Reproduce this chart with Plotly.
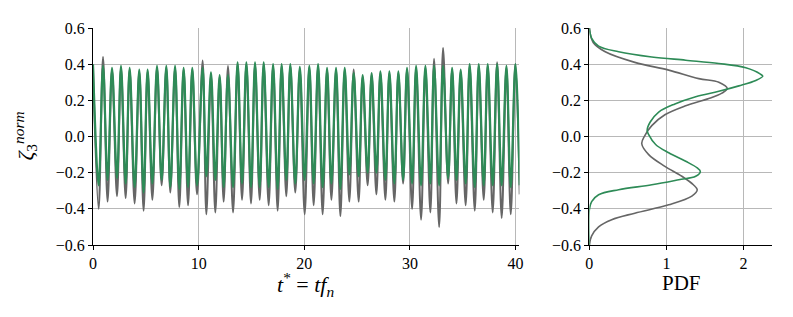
import plotly.graph_objects as go

# ---- time series: extrema (t*, value) ----
peak_t = [0.00, 0.95, 1.80, 2.65, 3.47, 4.38, 5.17, 6.06, 6.94, 7.77, 8.58, 9.40,
          10.38, 11.17, 11.99, 12.78, 13.69, 14.52, 15.34, 16.16, 17.05, 17.86, 18.68, 19.58,
          20.48, 21.31, 22.16, 23.01, 23.83, 24.68, 25.53, 26.38, 27.21, 28.06, 28.91,
          29.73, 30.59, 31.47, 32.29, 33.14, 34.00, 34.81, 35.66, 36.52, 37.37, 38.26, 39.14, 39.99]
trough_t = [0.53, 1.38, 2.27, 3.09, 3.94, 4.79, 5.62, 6.50, 7.32, 8.17, 9.00, 9.85,
            10.73, 11.58, 12.37, 13.26, 14.11, 14.96, 15.78, 16.63, 17.48, 18.30, 19.15,
            20.04, 20.89, 21.74, 22.57, 23.42, 24.27, 25.15, 26.00, 26.83, 27.68, 28.53,
            29.36, 30.21, 31.06, 31.94, 32.77, 33.62, 34.41, 35.28, 36.14, 36.99, 37.84, 38.69, 39.55]
end_t = 40.40

green_peak = [0.40, 0.39, 0.38, 0.39, 0.38, 0.37, 0.37, 0.39, 0.39, 0.39, 0.38, 0.38,
              0.38, 0.355, 0.34, 0.34, 0.41, 0.41, 0.41, 0.41, 0.40, 0.40, 0.40, 0.385,
              0.39, 0.40, 0.38, 0.38, 0.38, 0.35, 0.34, 0.35, 0.36, 0.36, 0.36,
              0.38, 0.39, 0.39, 0.39, 0.39, 0.38, 0.37, 0.40, 0.40, 0.40, 0.40, 0.39, 0.40]
green_trough = [-0.27, -0.24, -0.23, -0.26, -0.28, -0.31, -0.26, -0.24, -0.28, -0.29, -0.28, -0.27,
                -0.22, -0.24, -0.28, -0.28, -0.26, -0.28, -0.28, -0.28, -0.29, -0.24, -0.26,
                -0.24, -0.26, -0.28, -0.26, -0.29, -0.21, -0.22, -0.20, -0.20, -0.24, -0.26,
                -0.24, -0.26, -0.27, -0.26, -0.27, -0.23, -0.24, -0.26, -0.28, -0.27, -0.27, -0.27, -0.28]
green_end = -0.27

gray_peak = [0.39, 0.44, 0.37, 0.38, 0.37, 0.36, 0.36, 0.38, 0.38, 0.38, 0.37, 0.37,
             0.42, 0.34, 0.33, 0.39, 0.40, 0.40, 0.40, 0.40, 0.39, 0.39, 0.39, 0.37,
             0.38, 0.39, 0.37, 0.37, 0.37, 0.37, 0.33, 0.34, 0.35, 0.35, 0.35,
             0.37, 0.38, 0.38, 0.43, 0.49, 0.37, 0.36, 0.39, 0.39, 0.39, 0.41, 0.38, 0.40]
gray_trough = [-0.40, -0.36, -0.33, -0.34, -0.37, -0.41, -0.35, -0.27, -0.31, -0.39, -0.38, -0.32,
               -0.43, -0.42, -0.36, -0.42, -0.35, -0.37, -0.35, -0.38, -0.41, -0.33, -0.31,
               -0.43, -0.38, -0.43, -0.35, -0.44, -0.36, -0.36, -0.27, -0.32, -0.35, -0.36,
               -0.26, -0.40, -0.46, -0.42, -0.50, -0.26, -0.37, -0.38, -0.41, -0.35, -0.42, -0.45, -0.43]
gray_end = -0.32

# ---- PDF curves (zeta value, density) ----
gray_pdf_y = [-0.60, -0.55, -0.50, -0.46, -0.424, -0.378, -0.33, -0.295, -0.267, -0.22, -0.165,
              -0.10, -0.04, 0.005, 0.06, 0.12, 0.17, 0.21, 0.24, 0.265, 0.30, 0.32, 0.367,
              0.41, 0.47, 0.52, 0.60]
gray_pdf_v = [0.00, 0.03, 0.12, 0.29, 0.59, 1.03, 1.33, 1.40, 1.35, 1.20, 0.98,
              0.77, 0.68, 0.72, 0.81, 0.98, 1.25, 1.55, 1.72, 1.79, 1.68, 1.42, 1.03,
              0.59, 0.20, 0.05, 0.00]
green_pdf_y = [-0.60, -0.405, -0.36, -0.322, -0.294, -0.267, -0.239, -0.22, -0.193, -0.174,
               -0.137, -0.09, -0.044, 0.01, 0.035, 0.08, 0.135, 0.18, 0.22, 0.25, 0.28, 0.31,
               0.333, 0.345, 0.38, 0.404, 0.422, 0.44, 0.469, 0.50, 0.543, 0.60]
green_pdf_v = [0.00, 0.00, 0.03, 0.12, 0.38, 0.81, 1.16, 1.38, 1.44, 1.40,
               1.25, 1.03, 0.86, 0.77, 0.75, 0.79, 0.90, 1.11, 1.38, 1.68, 1.94, 2.16,
               2.25, 2.22, 2.03, 1.68, 1.25, 0.81, 0.38, 0.12, 0.03, 0.00]

y_ticks = [-0.6, -0.4, -0.2, 0.0, 0.2, 0.4, 0.6]
y_tick_text = ["\u22120.6", "\u22120.4", "\u22120.2", "0.0", "0.2", "0.4", "0.6"]
x_ticks = [0, 10, 20, 30, 40]
pdf_ticks = [0, 1, 2]

GREEN = "#2e8b57"
GRAY = "#666666"
FONT = "Liberation Serif"


def merge(peaks, troughs, end):
    t, v = [], []
    for i, p in enumerate(peak_t):
        t.append(p)
        v.append(peaks[i])
        if i < len(trough_t):
            t.append(trough_t[i])
            v.append(troughs[i])
    t.append(end_t)
    v.append(end)
    return t, v


tg, vg = merge(gray_peak, gray_trough, gray_end)
tgr, vgr = merge(green_peak, green_trough, green_end)

fig = go.Figure()
fig.add_trace(go.Scatter(x=tg, y=vg, mode="lines", line=dict(color=GRAY, width=2, shape="spline"),
                         xaxis="x", yaxis="y", showlegend=False))
fig.add_trace(go.Scatter(x=tgr, y=vgr, mode="lines", line=dict(color=GREEN, width=2.2, shape="spline"),
                         xaxis="x", yaxis="y", showlegend=False))
fig.add_trace(go.Scatter(x=gray_pdf_v, y=gray_pdf_y, mode="lines",
                         line=dict(color=GRAY, width=1.6, shape="spline"),
                         xaxis="x2", yaxis="y2", showlegend=False))
fig.add_trace(go.Scatter(x=green_pdf_v, y=green_pdf_y, mode="lines",
                         line=dict(color=GREEN, width=1.6, shape="spline"),
                         xaxis="x2", yaxis="y2", showlegend=False))

# the page body has an 8px margin, so the figure is offset by 8px
fig.update_layout(
    width=785, height=309,
    font=dict(family=FONT, size=16, color="black"),
    margin=dict(l=85, r=21, t=20, b=72, autoexpand=False),
    paper_bgcolor="white", plot_bgcolor="white",
    xaxis=dict(domain=[0, 0.628], range=[0, 40.37], tickvals=x_ticks, anchor="y"),
    yaxis=dict(domain=[0, 1], range=[-0.6, 0.6], tickvals=y_ticks, ticktext=y_tick_text, anchor="x"),
    xaxis2=dict(domain=[0.731, 1], range=[0, 2.37], tickvals=pdf_ticks, anchor="y2"),
    yaxis2=dict(domain=[0, 1], range=[-0.6, 0.6], tickvals=y_ticks, ticktext=y_tick_text, anchor="x2"),
    annotations=[
        dict(text="<i>t</i><sup>*</sup> = <i>tf</i><sub><i>n</i></sub>", xref="paper", yref="paper",
             x=0.3127, y=-0.184, showarrow=False, xanchor="center", yanchor="middle",
             font=dict(family=FONT, size=22, color="black")),
        dict(text="PDF", xref="paper", yref="paper",
             x=0.8667, y=-0.175, showarrow=False, xanchor="center", yanchor="middle",
             font=dict(family=FONT, size=21, color="black")),
        dict(text="<i>ζ</i><sub>3</sub><sup><i>norm</i></sup>", xref="paper", yref="paper",
             x=-0.10, y=0.5, showarrow=False, xanchor="center", yanchor="middle", textangle=-90,
             font=dict(family=FONT, size=22, color="black")),
    ],
)
fig.update_xaxes(showline=True, linecolor="black", linewidth=1.2, ticks="outside",
                 ticklen=4, tickwidth=1.1, tickcolor="black", showgrid=True,
                 gridcolor="#b8b8b8", gridwidth=1, zeroline=False, automargin=False,
                 tickfont_family=FONT, tickfont_size=16, tickfont_color="black")
fig.update_yaxes(showline=True, linecolor="black", linewidth=1.2, ticks="outside",
                 ticklen=4, tickwidth=1.1, tickcolor="black", showgrid=True,
                 gridcolor="#b8b8b8", gridwidth=1, zeroline=False, automargin=False,
                 tickfont_family=FONT, tickfont_size=16, tickfont_color="black")

fig.write_html("out.html")
